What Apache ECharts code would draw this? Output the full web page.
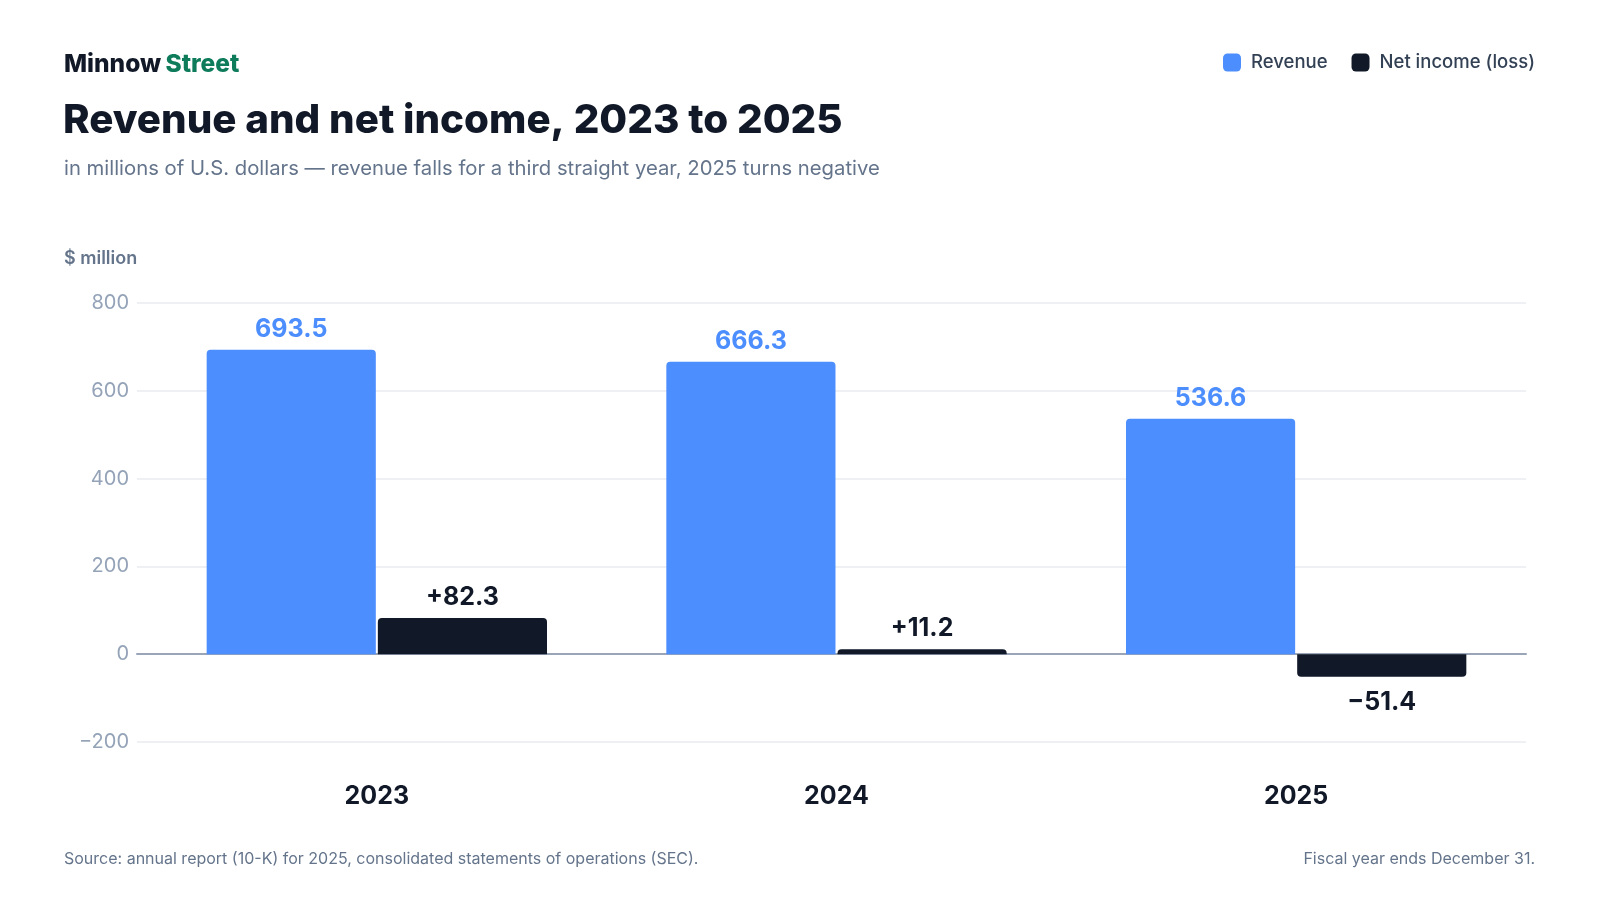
<!DOCTYPE html>
<html>
<head>
<meta charset="utf-8">
<script src="https://cdn.jsdelivr.net/npm/echarts@6/dist/echarts.min.js"></script>
<style>
  html, body { margin: 0; padding: 0; background: #fff; }
  #chart { width: 1600px; height: 900px; }
</style>
</head>
<body>
<div id="chart"></div>
<script>
const years = ['2023', '2024', '2025']
const revenue = [693.5, 666.3, 536.6]
const netIncome = [82.3, 11.2, -51.4]
const yTicks = { min: -200, max: 800, step: 200 }

const FONT = 'Inter, "Noto Sans", sans-serif'
const BLUE = '#4d8eff'
const INK = '#111827'
const SLATE = '#64748b'

const fmtSigned = v => (v >= 0 ? '+' : '\u2212') + Math.abs(v).toFixed(1)

const chart = echarts.init(document.getElementById('chart'))

// grid 0 carries the gridlines, y labels and the zero line; grid 1 carries the bars
const yBase = { type: 'value', min: yTicks.min, max: yTicks.max, interval: yTicks.step }

const option = {
  backgroundColor: '#fff',
  textStyle: { fontFamily: FONT },
  title: [
    {
      text: '{a|Minnow} {b|Street}',
      left: 59, top: 47,
      textStyle: {
        rich: {
          a: { fontFamily: FONT, fontSize: 24.5, fontWeight: 800, color: INK },
          b: { fontFamily: FONT, fontSize: 24.5, fontWeight: 800, color: '#0e7c5a' }
        }
      }
    },
    {
      text: 'Revenue and net income, 2023 to 2025',
      left: 58, top: 96,
      textStyle: { fontFamily: FONT, fontSize: 40.3, fontWeight: 800, color: INK }
    },
    {
      text: 'in millions of U.S. dollars \u2014 revenue falls for a third straight year, 2025 turns negative',
      left: 59, top: 154,
      textStyle: { fontFamily: FONT, fontSize: 20.3, fontWeight: 400, color: SLATE }
    },
    {
      text: '$ million',
      left: 59, top: 245,
      textStyle: { fontFamily: FONT, fontSize: 18, fontWeight: 600, color: SLATE }
    },
    {
      text: 'Source: annual report (10-K) for 2025, consolidated statements of operations (SEC).',
      left: 59, top: 846,
      textStyle: { fontFamily: FONT, fontSize: 16, fontWeight: 400, color: SLATE }
    },
    {
      text: 'Fiscal year ends December 31.',
      right: 60, top: 846,
      textStyle: { fontFamily: FONT, fontSize: 16, fontWeight: 400, color: SLATE }
    }
  ],
  legend: {
    right: 60, top: 48,
    icon: 'roundRect',
    itemWidth: 18, itemHeight: 18,
    itemGap: 24,
    textStyle: { fontFamily: FONT, fontSize: 18.5, fontWeight: 500, color: '#334155', padding: [0, 0, 0, 5] },
    data: ['Revenue', 'Net income (loss)']
  },
  grid: [
    { left: 137, right: 74, top: 303, bottom: 158 },
    { left: 147, right: 74, top: 303, bottom: 158 }
  ],
  xAxis: [
    {
      type: 'category', gridIndex: 0, data: years,
      axisLine: { onZero: true, lineStyle: { color: '#9aa5b8', width: 2 } },
      axisTick: { show: false },
      axisLabel: { show: false }
    },
    {
      type: 'category', gridIndex: 1, data: years,
      axisLine: { show: false },
      axisTick: { show: false },
      axisLabel: { fontFamily: FONT, fontSize: 25, fontWeight: 700, color: INK, margin: 42 }
    }
  ],
  yAxis: [
    Object.assign({}, yBase, {
      gridIndex: 0,
      axisLine: { show: false },
      axisTick: { show: false },
      splitLine: { lineStyle: { color: '#e8ebf0', width: 1.5 } },
      axisLabel: {
        fontFamily: FONT, fontSize: 20, color: '#94a3b8', margin: 8,
        formatter: v => (v < 0 ? '\u2212' + Math.abs(v) : String(v))
      }
    }),
    Object.assign({}, yBase, {
      gridIndex: 1,
      axisLine: { show: false },
      axisTick: { show: false },
      splitLine: { show: false },
      axisLabel: { show: false }
    })
  ],
  series: [
    {
      name: 'Revenue',
      type: 'bar',
      xAxisIndex: 1, yAxisIndex: 1,
      data: revenue,
      barWidth: '36.8%',
      barGap: '1.2%',
      itemStyle: { color: BLUE, borderRadius: [4, 4, 0, 0] },
      label: {
        show: true, position: 'top', distance: 8,
        fontFamily: FONT, fontSize: 25, fontWeight: 700, color: BLUE,
        formatter: p => p.value.toFixed(1)
      }
    },
    {
      name: 'Net income (loss)',
      type: 'bar',
      xAxisIndex: 1, yAxisIndex: 1,
      barWidth: '36.8%',
      data: netIncome.map(v => ({
        value: v,
        itemStyle: { borderRadius: v >= 0 ? [4, 4, 0, 0] : [0, 0, 4, 4] },
        label: { position: v >= 0 ? 'top' : 'bottom', distance: v >= 0 ? 8 : 13 }
      })),
      itemStyle: { color: INK },
      label: {
        show: true, distance: 8,
        fontFamily: FONT, fontSize: 25, fontWeight: 700, color: INK,
        formatter: p => fmtSigned(p.value)
      }
    }
  ]
}

chart.setOption(option)
</script>
</body>
</html>
